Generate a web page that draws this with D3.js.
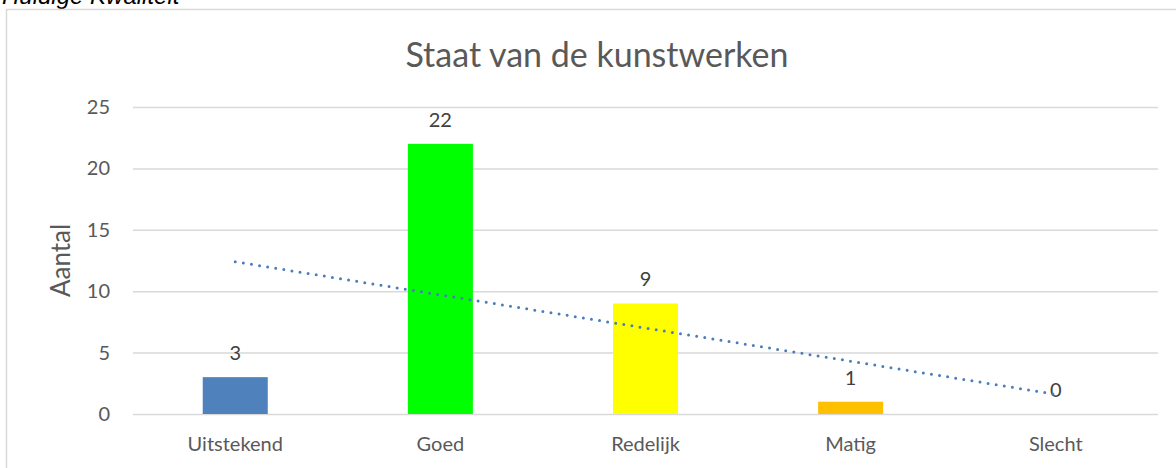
<!DOCTYPE html>
<meta charset="utf-8">
<script src="https://d3js.org/d3.v7.min.js"></script>
<style>
  * {margin: 0; padding: 0;}
  body {background: #fff; width: 1176px; height: 468px; overflow: hidden;}
  .grid line {stroke: #d9d9d9; stroke-width: 1.5;}
  .grid path {display: none;}
  .ylab text, .xlab text {fill: #595959; font-family: Lato, "Open Sans", sans-serif; font-size: 20px;}
  .ylab path, .ylab line, .xlab path, .xlab line {display: none;}
</style>
<body>
<div id="chart"></div>
<script>
// data
var categories = ["Uitstekend", "Goed", "Redelijk", "Matig", "Slecht"];
var values = [3, 22, 9, 1, 0];
var barColors = ["#4f81bd", "#00ff00", "#ffff00", "#ffc000", "#a5a5a5"];
var yTicks = [0, 5, 10, 15, 20, 25];

var W = 1176, H = 468;
var margin = {top: 107, left: 133, right: 18, bottom: 54};
var width = W - margin.left - margin.right,
    height = H - margin.top - margin.bottom;

var svg = d3.select("#chart").append("svg")
  .attr("width", W)
  .attr("height", H);

// heading above chart (cut off at top)
svg.append("text")
  .attr("x", 2).attr("y", 4)
  .style("font-family", "Liberation Sans, Arial, sans-serif")
  .style("font-style", "italic")
  .style("font-size", "24px")
  .style("fill", "#000")
  .text("Huidige Kwaliteit");

// chart border
svg.append("rect")
  .attr("x", 6.5).attr("y", 9.5)
  .attr("width", W + 10).attr("height", H + 10)
  .attr("fill", "none")
  .attr("stroke", "#d9d9d9")
  .attr("stroke-width", 1.5);

var g = svg.append("g").attr("transform", "translate(" + margin.left + "," + margin.top + ")");

var x = d3.scaleBand().domain(categories).range([0, width]).paddingInner(0.683).paddingOuter(0.34);
var y = d3.scaleLinear().domain([0, 25]).range([height, 0]);

g.append("g").attr("class", "grid")
  .call(d3.axisLeft(y).tickValues(yTicks).tickSize(-width).tickFormat(""));

g.append("g").attr("class", "ylab")
  .attr("transform", "translate(-23,0)")
  .call(d3.axisLeft(y).tickValues(yTicks).tickSize(0).tickPadding(0));

g.append("g").attr("class", "xlab")
  .attr("transform", "translate(0," + height + ")")
  .call(d3.axisBottom(x).tickSize(0).tickPadding(23));

g.selectAll(".bar")
  .data(values)
  .enter().append("rect")
  .attr("class", "bar")
  .attr("x", function(d, i) { return x(categories[i]); })
  .attr("y", function(d) { return y(d); })
  .attr("width", x.bandwidth())
  .attr("height", function(d) { return height - y(d); })
  .attr("fill", function(d, i) { return barColors[i]; });

g.selectAll(".val")
  .data(values)
  .enter().append("text")
  .attr("class", "val")
  .attr("x", function(d, i) { return x(categories[i]) + x.bandwidth() / 2; })
  .attr("y", function(d) { return y(d) - 17; })
  .attr("text-anchor", "middle")
  .style("font-family", "Lato, 'Open Sans', sans-serif")
  .style("font-size", "20px")
  .style("fill", "#404040")
  .text(function(d) { return d; });

// linear trendline (least squares over category index)
var n = values.length;
var mx = d3.mean(values, function(d, i) { return i; }),
    my = d3.mean(values);
var slope = d3.sum(values, function(d, i) { return (i - mx) * (d - my); }) /
            d3.sum(values, function(d, i) { return (i - mx) * (i - mx); });
var trend = [0, n - 1].map(function(i) { return [i, my + slope * (i - mx)]; });

g.append("path")
  .datum(trend)
  .attr("d", d3.line()
    .x(function(d) { return x(categories[d[0]]) + x.bandwidth() / 2; })
    .y(function(d) { return y(d[1]); }))
  .attr("fill", "none")
  .attr("stroke", "#4a7ebb")
  .attr("stroke-width", 3)
  .attr("stroke-linecap", "round")
  .attr("stroke-dasharray", "0,8.2");

// titles
svg.append("text")
  .attr("x", 597).attr("y", 67)
  .attr("text-anchor", "middle")
  .style("font-family", "Lato, 'Open Sans', sans-serif")
  .style("font-size", "34px")
  .style("fill", "#595959")
  .text("Staat van de kunstwerken");

svg.append("text")
  .attr("transform", "translate(70," + (margin.top + height / 2) + ") rotate(-90)")
  .attr("text-anchor", "middle")
  .style("font-family", "Lato, 'Open Sans', sans-serif")
  .style("font-size", "26px")
  .style("fill", "#595959")
  .text("Aantal");
</script>
</body>
